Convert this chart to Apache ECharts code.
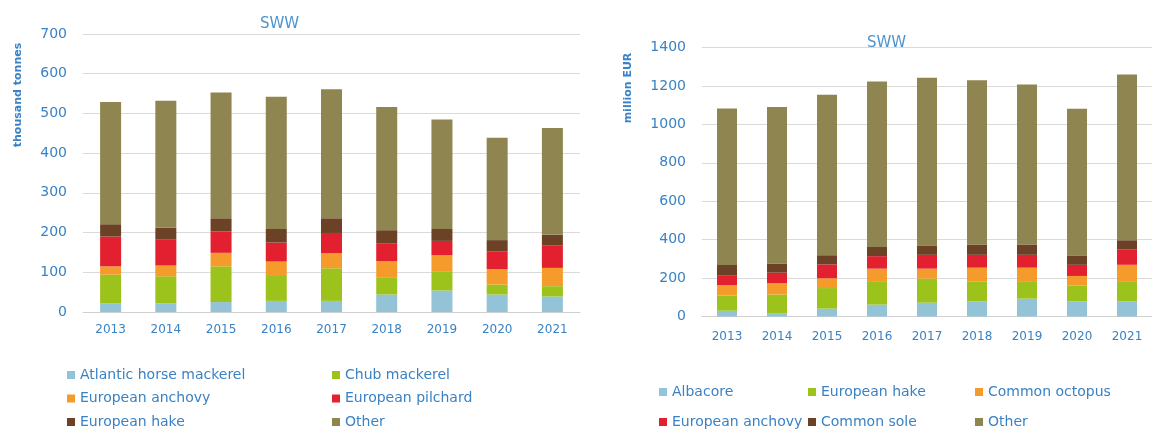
<!DOCTYPE html>
<html>
<head>
<meta charset="utf-8">
<script src="https://cdn.jsdelivr.net/npm/echarts@6/dist/echarts.min.js"></script>
<style>
html,body{margin:0;padding:0;background:#fff;}
#c{width:1152px;height:430px;}
</style>
</head>
<body>
<div id="c"></div>
<script>
// ---- data ----
var years = ['2013','2014','2015','2016','2017','2018','2019','2020','2021'];

// Left chart: landings, thousand tonnes
var leftNames = ['Atlantic horse mackerel','Chub mackerel','European anchovy','European pilchard','European hake','Other'];
var horseMackerel = [22,22,25,28,28,44,54,44,39];
var chubMackerel  = [72,68,90,65,82,42,47,25,26];
var anchovyL      = [21,27,34,34,38,42,42,39,46];
var pilchard      = [75,65,54,48,51,44,36,45,56];
var hakeL         = [31,30,33,34,37,34,30,28,28];
var otherL        = [308,320,317,333,325,310,276,258,268];
var leftTicks = [0,100,200,300,400,500,600,700];

// Right chart: value, million EUR
var rightNames = ['Albacore','European hake','Common octopus','European anchovy','Common sole','Other'];
var albacore = [30,15,41,62,72,79,93,79,79];
var hakeR    = [79,99,107,118,125,104,87,83,105];
var octopus  = [54,59,51,69,52,71,74,49,85];
var anchovyR = [52,55,72,65,72,67,67,58,81];
var sole     = [53,48,48,48,49,54,54,49,47];
var otherR   = [815,814,835,861,873,855,832,763,862];
var rightTicks = [0,200,400,600,800,1000,1200,1400];

// ---- style ----
var C = {blue:'#93c3d6', green:'#9bc31c', orange:'#f59b2b', red:'#e3202f', brown:'#6b4226', olive:'#8e8550'};
var leftColors  = [C.blue, C.green, C.orange, C.red, C.brown, C.olive];
var rightColors = [C.blue, C.green, C.orange, C.red, C.brown, C.olive];
var textBlue = '#3a82c4';
var FONT = 'DejaVu Sans';

var leftData  = [horseMackerel, chubMackerel, anchovyL, pilchard, hakeL, otherL];
var rightData = [albacore, hakeR, octopus, anchovyR, sole, otherR];

var series = [];
leftNames.forEach(function(n,i){
  series.push({type:'bar', name:n, stack:'L', xAxisIndex:0, yAxisIndex:0, barWidth:21,
    itemStyle:{color:leftColors[i]}, data:leftData[i]});
});
rightNames.forEach(function(n,i){
  series.push({type:'bar', name:n, stack:'R', xAxisIndex:1, yAxisIndex:1, barWidth:20,
    itemStyle:{color:rightColors[i]}, data:rightData[i]});
});

function legendItems(names, colors, idx){
  return idx.map(function(k){ return {name:names[k], itemStyle:{color:colors[k]}}; });
}
function mkLegend(left, top, gap, items){
  return {orient:'vertical', left:left, top:top, height:80, padding:0, itemGap:gap, itemWidth:8, itemHeight:8,
    icon:'rect', selectedMode:false, data:items,
    textStyle:{color:textBlue, fontFamily:FONT, fontSize:14, lineHeight:12}};
}

var yLab = {color:textBlue, fontFamily:FONT, fontSize:14, margin:16, formatter:function(v){return String(v);}};
var xLabL = {color:textBlue, fontFamily:FONT, fontSize:12, margin:12};
var xLabR = {color:textBlue, fontFamily:FONT, fontSize:12, margin:14};
var grid = {lineStyle:{color:'#dadada', width:1}};

var option = {
  backgroundColor:'#fff',
  animation:false,
  title:[
    {text:'SWW', left:255, top:12, textStyle:{color:'#4b94d0', fontFamily:FONT, fontSize:15, fontWeight:'normal'}},
    {text:'SWW', left:862, top:31, textStyle:{color:'#4b94d0', fontFamily:FONT, fontSize:15, fontWeight:'normal'}}
  ],
  grid:[
    {left:83, right:572, top:34, bottom:118, containLabel:false},
    {left:702, right:-14, top:47.5, bottom:113.5, containLabel:false}
  ],
  xAxis:[
    {type:'category', gridIndex:0, data:years, axisTick:{show:false},
      axisLine:{lineStyle:{color:'#d0d0d0'}}, axisLabel:xLabL},
    {type:'category', gridIndex:1, data:years, axisTick:{show:false},
      axisLine:{lineStyle:{color:'#d0d0d0'}}, axisLabel:xLabR}
  ],
  yAxis:[
    {type:'value', gridIndex:0, min:leftTicks[0], max:leftTicks[leftTicks.length-1], interval:100,
      axisLine:{show:false}, axisTick:{show:false}, splitLine:grid, axisLabel:yLab},
    {type:'value', gridIndex:1, min:rightTicks[0], max:rightTicks[rightTicks.length-1], interval:200,
      axisLine:{show:false}, axisTick:{show:false}, splitLine:grid, axisLabel:yLab}
  ],
  legend:[
    mkLegend(67, 368, 9.5, legendItems(leftNames, leftColors, [0,2,4])),
    mkLegend(332, 368, 9.5, legendItems(leftNames, leftColors, [1,3,5])),
    mkLegend(659, 385, 16, legendItems(rightNames, rightColors, [0,3])),
    mkLegend(808, 385, 16, legendItems(rightNames, rightColors, [1,4])),
    mkLegend(975, 385, 16, legendItems(rightNames, rightColors, [2,5]))
  ],
  graphic:[
    {type:'text', x:18, y:95, rotation:Math.PI/2,
      style:{text:'thousand tonnes', fill:textBlue, font:'bold 11px "DejaVu Sans"', align:'center', verticalAlign:'middle'}},
    {type:'text', x:628, y:88, rotation:Math.PI/2,
      style:{text:'million EUR', fill:textBlue, font:'bold 11px "DejaVu Sans"', align:'center', verticalAlign:'middle'}}
  ],
  series:series
};

var chart = echarts.init(document.getElementById('c'), null, {renderer:'canvas'});
chart.setOption(option);
</script>
</body>
</html>
